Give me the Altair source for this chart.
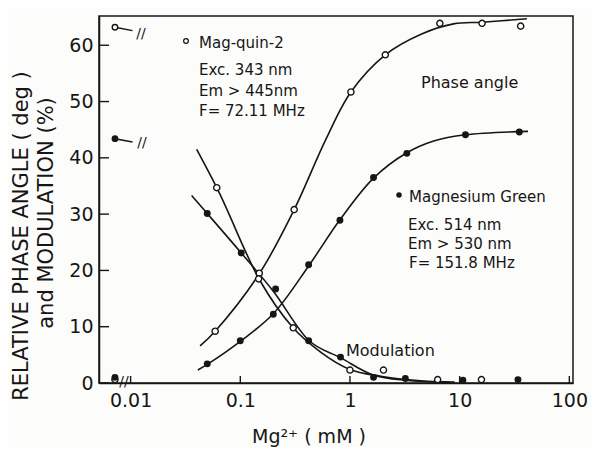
import altair as alt
import pandas as pd

FONT = "DejaVu Sans"
INK = "#161616"
PAPER = "#fcfcfa"

# ---------------- data ----------------
# Mag-quin-2 (open circles)
mq_phase_x = [0.059, 0.149, 0.31, 1.02, 2.1, 6.6, 16.0, 36.0]
mq_phase_y = [9.2, 19.5, 30.8, 51.7, 58.3, 63.9, 63.9, 63.4]
mq_mod_x = [0.061, 0.147, 0.304, 1.0, 2.02, 6.3, 15.8]
mq_mod_y = [34.7, 18.5, 9.8, 2.3, 2.3, 0.6, 0.6]
# Magnesium Green (filled circles)
mg_phase_x = [0.050, 0.100, 0.20, 0.42, 0.81, 1.64, 3.3, 11.3, 35.0]
mg_phase_y = [3.4, 7.5, 12.2, 21.0, 28.9, 36.5, 40.8, 44.1, 44.6]
mg_mod_x = [0.050, 0.102, 0.21, 0.42, 0.82, 1.64, 3.2, 10.7, 34.0]
mg_mod_y = [30.1, 23.1, 16.7, 7.5, 4.6, 1.0, 0.8, 0.5, 0.6]

# fitted curves
mq_phase_fit_x = [0.043, 0.059, 0.15, 0.31, 0.60, 1.02, 2.1, 4.5, 8.8, 16.0, 41.0]
mq_phase_fit_y = [6.6, 9.2, 19.5, 30.8, 43.2, 51.7, 58.3, 62.0, 63.8, 64.1, 64.7]
mg_phase_fit_x = [0.041, 0.050, 0.10, 0.20, 0.42, 0.81, 1.64, 3.3, 5.8, 11.3, 42.0]
mg_phase_fit_y = [2.3, 3.3, 7.4, 12.3, 20.8, 29.0, 36.4, 40.9, 43.0, 44.1, 44.7]
mq_mod_fit_x = [0.040, 0.061, 0.15, 0.30, 0.54, 1.0, 1.9, 4.4, 9.0]
mq_mod_fit_y = [41.5, 34.7, 18.3, 9.9, 5.5, 2.4, 1.2, 0.4, 0.15]
mg_mod_fit_x = [0.036, 0.050, 0.102, 0.20, 0.42, 0.82, 1.64, 3.2, 8.0]
mg_mod_fit_y = [33.3, 30.1, 23.1, 16.3, 7.6, 4.5, 1.4, 0.5, 0.1]

# zero-Mg points (at the axis break) and plateau markers (top left)
zero_x = [0.0072]
zero_open_y = [0.6]
zero_filled_y = [1.0]
plateau_x = [0.0072, 0.0104]
plateau_open_y = [63.2, 62.6]
plateau_filled_y = [43.4, 42.8]

x_ticks = [0.01, 0.1, 1, 10, 100]
y_ticks = [0, 10, 20, 30, 40, 50, 60]

W, H = 474, 367

xscale = alt.Scale(type="log", domain=[0.00515, 108], nice=False)
yscale = alt.Scale(domain=[0, 65.2], nice=False, zero=False)

x_axis = alt.Axis(values=x_ticks, format="~g", ticks=False, grid=False, title=None,
                  labelFontSize=19, labelPadding=8, labelFont=FONT, labelColor=INK,
                  domainColor=INK, domainWidth=1.5, labelFlush=False)
y_axis = alt.Axis(values=y_ticks, ticks=False, grid=False, title=None,
                  labelFontSize=19, labelPadding=6, labelFont=FONT, labelColor=INK,
                  domainColor=INK, domainWidth=1.5)


def df(x, y):
    return pd.DataFrame({"x": x, "y": y})


def X():
    return alt.X("x:Q", scale=xscale, axis=x_axis)


def Y():
    return alt.Y("y:Q", scale=yscale, axis=y_axis)


def curve(x, y, interp):
    return alt.Chart(df(x, y)).mark_line(color=INK, strokeWidth=1.6,
                                         interpolate=interp).encode(x=X(), y=Y())


def open_pts(x, y, size=38):
    return alt.Chart(df(x, y)).mark_point(shape="circle", filled=True, fill="white",
                                          stroke=INK, strokeWidth=1.4, size=size,
                                          opacity=1).encode(x=X(), y=Y())


def filled_pts(x, y, size=48):
    return alt.Chart(df(x, y)).mark_circle(color=INK, size=size, opacity=1).encode(x=X(), y=Y())


dummy = pd.DataFrame({"d": [0]})


def label(text, x, y, size=15, align="left", angle=0):
    return alt.Chart(dummy).mark_text(text=text, align=align, baseline="middle",
                                      font=FONT, fontSize=size, color=INK,
                                      angle=angle).encode(x=alt.value(x), y=alt.value(y))


x_tick_rules = alt.Chart(pd.DataFrame({"x": x_ticks})).mark_rule(
    color=INK, strokeWidth=1.4).encode(x=X(), y=alt.value(H), y2=alt.value(H - 7))
y_tick_rules = alt.Chart(pd.DataFrame({"y": y_ticks})).mark_rule(
    color=INK, strokeWidth=1.4).encode(y=Y(), x=alt.value(0), x2=alt.value(10))

plateau_lines = [
    alt.Chart(df(plateau_x, plateau_open_y)).mark_line(color=INK, strokeWidth=1.5).encode(x=X(), y=Y()),
    alt.Chart(df(plateau_x, plateau_filled_y)).mark_line(color=INK, strokeWidth=1.5).encode(x=X(), y=Y()),
]

legend_open = alt.Chart(dummy).mark_point(shape="circle", filled=True, fill="white", stroke=INK,
                                          strokeWidth=1.3, size=22, opacity=1).encode(
    x=alt.value(87), y=alt.value(25))
legend_filled = alt.Chart(dummy).mark_circle(color=INK, size=30, opacity=1).encode(
    x=alt.value(300), y=alt.value(179))

layers = [
    x_tick_rules, y_tick_rules,
    curve(mq_phase_fit_x, mq_phase_fit_y, "catmull-rom"),
    curve(mg_phase_fit_x, mg_phase_fit_y, "catmull-rom"),
    curve(mq_mod_fit_x, mq_mod_fit_y, "monotone"),
    curve(mg_mod_fit_x, mg_mod_fit_y, "monotone"),
    *plateau_lines,
    open_pts(mq_phase_x, mq_phase_y),
    open_pts(mq_mod_x, mq_mod_y),
    filled_pts(mg_phase_x, mg_phase_y),
    filled_pts(mg_mod_x, mg_mod_y),
    open_pts(zero_x, zero_open_y),
    filled_pts(zero_x, zero_filled_y),
    open_pts(plateau_x[:1], plateau_open_y[:1], size=30),
    filled_pts(plateau_x[:1], plateau_filled_y[:1], size=45),
    legend_open, legend_filled,
    # break marks
    label("//", 42, 18, size=14, align="center"),
    label("//", 43, 127, size=14, align="center"),
    label("//", 25, 366, size=14, align="center"),
    # annotations
    label("Mag-quin-2", 100, 27),
    label("Exc. 343 nm", 100, 54),
    label("Em > 445nm", 100, 75),
    label("F= 72.11 MHz", 100, 95),
    label("Phase angle", 322, 67, size=16),
    label("Magnesium Green", 310, 181),
    label("Exc. 514 nm", 309, 209),
    label("Em > 530 nm", 309, 228),
    label("F= 151.8 MHz", 310, 247),
    label("Modulation", 247, 335, size=16),
    # axis titles
    label("RELATIVE PHASE ANGLE ( deg )", -77, 220, size=21, align="center", angle=270),
    label("and MODULATION (%)", -52, 197, size=21, align="center", angle=270),
    label("Mg²⁺ ( mM )", 210, 421, size=19, align="center"),
]

chart = alt.layer(*layers).properties(
    width=W, height=H,
    autosize=alt.AutoSizeParams(type="none"),
    padding={"left": 91, "top": 8, "right": 19, "bottom": 64},
    background=PAPER,
).configure_view(stroke=INK, strokeWidth=1.5)

chart.save("out.html", embed_options={"renderer": "svg", "actions": False})
